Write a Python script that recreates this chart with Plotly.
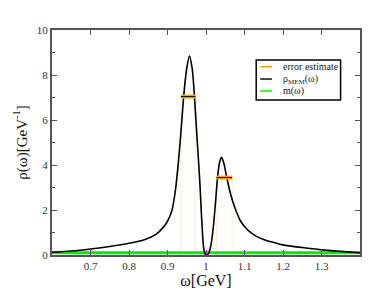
import plotly.graph_objects as go

# spectral function rho_MEM(omega)
omega = [0.60, 0.65, 0.70, 0.75, 0.80, 0.84, 0.87, 0.89, 0.90, 0.911, 0.92, 0.928, 0.936, 0.942, 0.950,
         0.957, 0.964, 0.970, 0.976, 0.981, 0.985, 0.988, 0.991, 0.994, 0.998, 1.002, 1.006, 1.009,
         1.012, 1.016, 1.020, 1.025, 1.030, 1.035, 1.040, 1.046, 1.054, 1.064, 1.075, 1.090, 1.109,
         1.13, 1.151, 1.184, 1.20, 1.25, 1.30, 1.35, 1.40]
rho = [0.12, 0.18, 0.27, 0.38, 0.52, 0.68, 0.92, 1.25, 1.50, 1.95, 2.80, 4.07, 5.70, 7.04, 8.30,
       8.84, 8.30, 7.04, 5.40, 4.07, 2.90, 1.85, 0.95, 0.30, 0.03, 0.00, 0.05, 0.18,
       0.37, 0.80, 1.41, 2.40, 3.44, 4.10, 4.34, 4.10, 3.44, 2.70, 2.10, 1.50, 1.10,
       0.84, 0.68, 0.52, 0.45, 0.33, 0.23, 0.16, 0.10]

# default model m(omega)
m_omega = [0.60, 1.40]
m_val = [0.10, 0.10]

# error estimates: (omega_low, omega_high, level)
err_lo = [0.935, 1.0275]
err_hi = [0.972, 1.068]
err_val = [7.04, 3.44]

SERIF = "Liberation Serif, Times New Roman, Times, serif"

fig = go.Figure()

for lo, hi, v in zip(err_lo, err_hi, err_val):
    for xx in (lo, hi):
        fig.add_trace(go.Scatter(x=[xx, xx], y=[0, v], mode="lines",
                                 line=dict(color="rgba(255,200,120,0.35)", width=1),
                                 showlegend=False, hoverinfo="skip"))

fig.add_trace(go.Scatter(x=m_omega, y=m_val, mode="lines",
                         line=dict(color="#00ee00", width=3), showlegend=False))

fig.add_trace(go.Scatter(x=omega, y=rho, mode="lines",
                         line=dict(color="black", width=1.6, shape="spline", smoothing=0.8),
                         showlegend=False))

for lo, hi, v in zip(err_lo, err_hi, err_val):
    fig.add_trace(go.Scatter(x=[lo, hi], y=[v, v], mode="lines",
                             line=dict(color="#ffa500", width=4), showlegend=False))
    fig.add_trace(go.Scatter(x=[lo, hi], y=[v, v], mode="lines",
                             line=dict(color="black", width=1), showlegend=False))

# manual legend
legend_labels = ["error estimate", "ρ<sub>MEM</sub>(ω)", "m(ω)"]
legend_colors = ["#ffa500", "#444444", "#00ee00"]
legend_y = [0.837, 0.782, 0.729]
shapes = [dict(type="rect", xref="paper", yref="paper", x0=0.663, x1=0.937, y0=0.689, y1=0.867,
               line=dict(color="black", width=1.5), fillcolor="white", layer="above")]
annotations = []
for lab, col, yy in zip(legend_labels, legend_colors, legend_y):
    shapes.append(dict(type="line", xref="paper", yref="paper", x0=0.676, x1=0.714, y0=yy, y1=yy,
                       line=dict(color=col, width=1.5 if col != "#444444" else 2), layer="above"))
    annotations.append(dict(xref="paper", yref="paper", x=0.742, y=yy, text=lab, showarrow=False,
                            xanchor="left", yanchor="middle",
                            font=dict(family=SERIF, size=10, color="#222")))

# page body has an 8px margin, so the figure is shrunk by 8px and margins offset
fig.update_layout(
    width=380, height=292,
    margin=dict(l=37, r=28, t=22, b=45),
    paper_bgcolor="white", plot_bgcolor="white",
    font=dict(family=SERIF, color="#333"),
    shapes=shapes, annotations=annotations,
    showlegend=False,
)
fig.update_xaxes(range=[0.6, 1.4], tickvals=[0.7, 0.8, 0.9, 1.0, 1.1, 1.2, 1.3],
                 ticktext=["0.7", "0.8", "0.9", "1", "1.1", "1.2", "1.3"],
                 ticks="inside", ticklen=5, tickcolor="#555", tickwidth=1.2,
                 showline=True, linecolor="#555", linewidth=2, mirror="ticks",
                 showgrid=False, zeroline=False,
                 tickfont=dict(size=11, family=SERIF, color="#333"),
                 title=dict(text="ω[GeV]", font=dict(size=16, family=SERIF, color="#111"), standoff=1))
fig.update_yaxes(range=[0, 10], tickvals=[0, 2, 4, 6, 8, 10],
                 ticks="inside", ticklen=5, tickcolor="#555", tickwidth=1.2,
                 minor=dict(tickvals=[1, 3, 5, 7, 9], ticks="inside", ticklen=3, tickcolor="#555"),
                 showline=True, linecolor="#555", linewidth=2, mirror="ticks",
                 showgrid=False, zeroline=False,
                 tickfont=dict(size=11, family=SERIF, color="#333"),
                 title=dict(text="ρ(ω)[GeV<sup>-1</sup>]", font=dict(size=15, family=SERIF, color="#111"), standoff=6))

fig.write_html("out.html")
